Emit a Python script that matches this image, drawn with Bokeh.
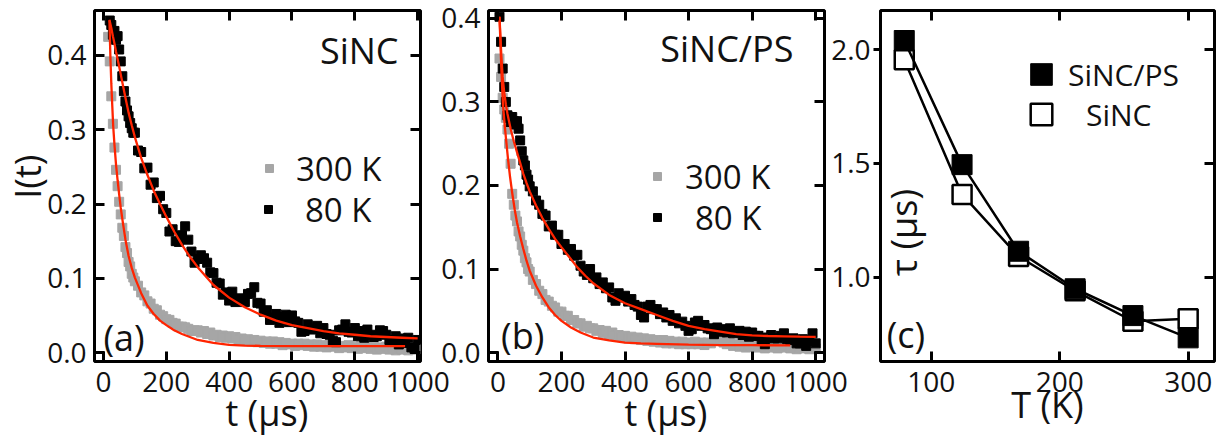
from math import pi

from bokeh.embed import file_html
from bokeh.layouts import row
from bokeh.models import (FixedTicker, Label, Legend, LegendItem, LinearAxis,
                          NumeralTickFormatter, Range1d)
from bokeh.plotting import figure
from bokeh.resources import INLINE

FONT = "Open Sans"
RED = "#ff2400"
GRAY = "#a6a6a6"

# ---------------------------------------------------------------- data
# sampling times of the decay traces (µs)
T_GRID = [5, 10, 15, 20, 25, 30, 35, 40, 45, 50, 55, 60, 65, 70, 75, 80, 85, 90, 95,
          100, 110, 120, 130, 140, 150, 160, 170, 180, 190,
          200, 210, 220, 230, 240, 250, 260, 270, 280, 290,
          300, 310, 320, 330, 340, 350, 360, 370, 380, 390,
          400, 410, 420, 430, 440, 450, 460, 470, 480, 490,
          500, 510, 520, 530, 540, 550, 560, 570, 580, 590,
          600, 610, 620, 630, 640, 650, 660, 670, 680, 690,
          700, 710, 720, 730, 740, 750, 760, 770, 780, 790,
          800, 810, 820, 830, 840, 850, 860, 870, 880, 890,
          900, 910, 920, 930, 940, 950, 960, 970, 980, 990, 1000]

# (a) SiNC, 80 K  (starts at t = 20)
A_80K = [0.447, 0.441, 0.428, 0.433, 0.421, 0.426, 0.408, 0.392, 0.372, 0.352,
         0.338, 0.326, 0.318, 0.309, 0.302, 0.296,
         0.296, 0.272, 0.270, 0.248, 0.249, 0.226, 0.229, 0.208, 0.211, 0.193,
         0.188, 0.163, 0.166, 0.150, 0.149, 0.158, 0.170, 0.152, 0.136, 0.121,
         0.126, 0.131, 0.127, 0.121, 0.108, 0.107, 0.094, 0.093, 0.078, 0.081,
         0.070, 0.082, 0.068, 0.073, 0.071, 0.068, 0.079, 0.080, 0.088, 0.067,
         0.066, 0.055, 0.057, 0.044, 0.047, 0.052, 0.040, 0.048, 0.051, 0.041,
         0.050, 0.042, 0.040, 0.028, 0.029, 0.038, 0.031, 0.032, 0.036, 0.026,
         0.033, 0.025, 0.024, 0.016, 0.014, 0.030, 0.031, 0.038, 0.028, 0.027,
         0.033, 0.022, 0.029, 0.020, 0.031, 0.024, 0.021, 0.022, 0.030, 0.029,
         0.024, 0.017, 0.016, 0.022, 0.011, 0.019, 0.013, 0.020, 0.007, 0.005,
         0.017]
# (a) SiNC, 300 K  (starts at t = 15)
A_300K = [0.425, 0.392, 0.345, 0.308, 0.276, 0.246, 0.224, 0.203, 0.186, 0.168,
          0.157, 0.142, 0.134, 0.122, 0.116, 0.106, 0.101,
          0.096, 0.090, 0.081, 0.077, 0.069, 0.066, 0.059, 0.057, 0.051, 0.049,
          0.045, 0.044, 0.040, 0.039, 0.035, 0.035, 0.034, 0.032, 0.029, 0.030,
          0.030, 0.027, 0.029, 0.025, 0.027, 0.023, 0.024, 0.021, 0.023, 0.020,
          0.022, 0.019, 0.021, 0.017, 0.019, 0.016, 0.018, 0.015, 0.017, 0.014,
          0.016, 0.013, 0.015, 0.012, 0.015, 0.012, 0.014, 0.010, 0.013, 0.011,
          0.012, 0.009, 0.012, 0.010, 0.012, 0.009, 0.011, 0.008, 0.011, 0.008,
          0.010, 0.007, 0.011, 0.008, 0.010, 0.006, 0.009, 0.007, 0.010, 0.006,
          0.008, 0.005, 0.009, 0.006, 0.008, 0.005, 0.008, 0.004, 0.007, 0.005,
          0.008, 0.004, 0.006, 0.003, 0.007, 0.004, 0.006, 0.003, 0.006, 0.004,
          0.005]
# (b) SiNC/PS, 80 K  (starts at t = 5)
B_80K = [0.402, 0.372, 0.340, 0.318, 0.300, 0.284, 0.281, 0.276, 0.282, 0.277,
         0.273, 0.277, 0.268, 0.254, 0.241, 0.230, 0.224, 0.213, 0.207,
         0.199, 0.193, 0.182, 0.177, 0.166, 0.164, 0.151, 0.152, 0.141, 0.141,
         0.130, 0.130, 0.123, 0.124, 0.116, 0.117, 0.104, 0.097, 0.093, 0.100,
         0.089, 0.090, 0.082, 0.084, 0.077, 0.078, 0.066, 0.062, 0.071, 0.066,
         0.068, 0.061, 0.064, 0.057, 0.055, 0.045, 0.042, 0.055, 0.057, 0.052,
         0.052, 0.046, 0.048, 0.042, 0.045, 0.038, 0.041, 0.035, 0.037, 0.032,
         0.026, 0.028, 0.036, 0.038, 0.032, 0.033, 0.029, 0.028, 0.022, 0.030,
         0.025, 0.028, 0.024, 0.029, 0.023, 0.024, 0.026, 0.021, 0.025, 0.019,
         0.024, 0.020, 0.020, 0.014, 0.010, 0.018, 0.021, 0.017, 0.017, 0.020,
         0.023, 0.016, 0.015, 0.017, 0.011, 0.011, 0.016, 0.008, 0.014, 0.023,
         0.011]
# (b) SiNC/PS, 300 K  (starts at t = 5)
B_300K = [0.352, 0.330, 0.305, 0.291, 0.281, 0.267, 0.250, 0.226, 0.190, 0.177,
          0.164, 0.157, 0.145, 0.139, 0.129, 0.122, 0.113, 0.108, 0.100,
          0.097, 0.087, 0.082, 0.074, 0.070, 0.063, 0.061, 0.056, 0.054, 0.049,
          0.049, 0.044, 0.044, 0.039, 0.039, 0.035, 0.035, 0.031, 0.032, 0.029,
          0.029, 0.026, 0.027, 0.023, 0.026, 0.021, 0.024, 0.020, 0.021, 0.019,
          0.020, 0.017, 0.019, 0.016, 0.018, 0.015, 0.017, 0.014, 0.016, 0.013,
          0.015, 0.012, 0.015, 0.011, 0.014, 0.011, 0.013, 0.010, 0.013, 0.010,
          0.012, 0.010, 0.013, 0.010, 0.012, 0.009, 0.012, 0.011, 0.015, 0.016,
          0.017, 0.012, 0.010, 0.011, 0.008, 0.010, 0.007, 0.009, 0.006, 0.009,
          0.007, 0.010, 0.006, 0.008, 0.005, 0.008, 0.006, 0.009, 0.005, 0.007,
          0.006, 0.008, 0.005, 0.007, 0.004, 0.006, 0.005, 0.007, 0.004, 0.006,
          0.005]

# fitted decay curves
FIT_A80_T = [19, 25, 30, 35, 40, 50, 60, 70, 80, 90, 100, 120, 140, 160, 180, 200,
             225, 250, 275, 300, 350, 400, 450, 500, 550, 600, 650, 700, 750, 800,
             850, 900, 950, 1000]
FIT_A80 = [0.448, 0.437, 0.426, 0.416, 0.405, 0.385, 0.364, 0.343, 0.323, 0.306,
           0.290, 0.262, 0.239, 0.218, 0.200, 0.183, 0.163, 0.145, 0.129, 0.115,
           0.091, 0.074, 0.061, 0.051, 0.043, 0.037, 0.033, 0.029, 0.026, 0.024,
           0.022, 0.021, 0.020, 0.019]
FIT_A300_T = [19, 22, 25, 28, 31, 35, 40, 45, 50, 55, 60, 70, 80, 90, 100, 120, 140,
              160, 180, 200, 225, 250, 300, 350, 400, 450, 500, 600, 700, 800, 960]
FIT_A300 = [0.447, 0.400, 0.362, 0.333, 0.305, 0.280, 0.253, 0.232, 0.213, 0.195,
            0.180, 0.152, 0.130, 0.114, 0.101, 0.080, 0.063, 0.052, 0.043, 0.037,
            0.030, 0.025, 0.017, 0.013, 0.0105, 0.0095, 0.009, 0.0088, 0.0088,
            0.0088, 0.0088]
FIT_B80_T = [5, 8, 11, 15, 20, 25, 30, 40, 50, 60, 70, 80, 90, 100, 120, 140, 160,
             180, 200, 225, 250, 275, 300, 350, 400, 450, 500, 550, 600, 650, 700,
             750, 800, 850, 900, 950, 1000]
FIT_B80 = [0.402, 0.378, 0.354, 0.330, 0.311, 0.297, 0.286, 0.268, 0.253, 0.240,
           0.227, 0.214, 0.203, 0.193, 0.176, 0.161, 0.148, 0.136, 0.126, 0.114,
           0.102, 0.092, 0.083, 0.069, 0.059, 0.052, 0.045, 0.038, 0.032, 0.028,
           0.025, 0.022, 0.0205, 0.0198, 0.0194, 0.019, 0.0187]
FIT_B300_T = [5, 8, 11, 14, 17, 22, 27, 32, 38, 45, 53, 60, 70, 80, 90, 100, 120,
              140, 160, 180, 200, 230, 260, 300, 350, 400, 450, 500, 600, 700, 800,
              920]
FIT_B300 = [0.402, 0.370, 0.338, 0.312, 0.292, 0.270, 0.250, 0.231, 0.211, 0.191,
            0.171, 0.156, 0.139, 0.124, 0.110, 0.098, 0.080, 0.066, 0.054, 0.045,
            0.038, 0.030, 0.024, 0.018, 0.0145, 0.012, 0.011, 0.0105, 0.0095,
            0.009, 0.0088, 0.0087]

# (c) lifetime vs temperature
TEMP_K = [79, 124, 168, 212, 257, 300]
TAU_SINC_PS = [2.041, 1.495, 1.114, 0.949, 0.831, 0.733]
TAU_SINC = [1.956, 1.364, 1.091, 0.940, 0.806, 0.817]

T_TICKS = [0, 200, 400, 600, 800, 1000]
I_TICKS_A = [0.0, 0.1, 0.2, 0.3, 0.4]
I_TICKS_B = [0.0, 0.1, 0.2, 0.3, 0.4]
TEMP_TICKS = [100, 200, 300]
TAU_TICKS = [1.0, 1.5, 2.0]


# ---------------------------------------------------------------- helpers
def base_axis(ax, ticks, fmt, tick_in=10, tick_out=0, show_labels=True, standoff=8):
    ax.ticker = FixedTicker(ticks=ticks)
    ax.formatter = NumeralTickFormatter(format=fmt)
    ax.axis_line_color = None
    ax.major_tick_line_color = "black"
    ax.major_tick_line_width = 3
    ax.major_tick_in = tick_in
    ax.major_tick_out = tick_out
    ax.minor_tick_line_color = None
    ax.minor_tick_in = 0
    ax.minor_tick_out = 0
    ax.major_label_text_font = FONT
    ax.major_label_standoff = standoff
    if show_labels:
        ax.major_label_text_color = "#111111"
        ax.major_label_text_font_size = "28px"
    else:
        # mirror axis: ticks only
        ax.major_label_text_color = None
        ax.major_label_text_font_size = "1px"
        ax.axis_label_standoff = 0
    ax.axis_label_text_font = FONT
    ax.axis_label_text_font_size = "36px"
    ax.axis_label_text_font_style = "normal"
    ax.axis_label_text_color = "#111111"


def make_panel(width, x_range, y_range, xticks, yticks, xfmt, yfmt,
               left, right, top, bottom, left_tick_out=0):
    p = figure(width=width, height=442, x_range=Range1d(*x_range),
               y_range=Range1d(*y_range), output_backend="svg", title=None,
               toolbar_location=None, min_border_left=left, min_border_right=right,
               min_border_top=top, min_border_bottom=bottom)
    p.grid.visible = False
    p.outline_line_color = "black"
    p.outline_line_width = 3
    p.background_fill_color = "white"
    p.border_fill_color = None
    base_axis(p.below[0], xticks, xfmt, standoff=10)
    if left_tick_out:
        base_axis(p.left[0], yticks, yfmt, tick_in=0, tick_out=left_tick_out,
                  standoff=3)
    else:
        base_axis(p.left[0], yticks, yfmt, standoff=8)
    top_ax = LinearAxis()
    base_axis(top_ax, xticks, xfmt, show_labels=False, standoff=0)
    p.add_layout(top_ax, "above")
    right_ax = LinearAxis()
    base_axis(right_ax, yticks, yfmt, show_labels=False, standoff=0)
    p.add_layout(right_ax, "right")
    return p


def key(p, renderers, label, x, y, standoff, size, glyph_w, glyph_h=50):
    leg = Legend(items=[LegendItem(label=label, renderers=renderers)],
                 location=(x, y), border_line_color=None, background_fill_alpha=0,
                 padding=0, margin=0, spacing=0, glyph_width=glyph_w,
                 glyph_height=glyph_h, label_standoff=standoff, label_height=0,
                 label_width=0, label_text_font=FONT, label_text_font_size=size,
                 label_text_color="#111111")
    p.add_layout(leg)


def tag(p, x, y, text, align="left", size="36px", angle=0.0, baseline="alphabetic"):
    p.add_layout(Label(x=x, y=y, text=text, text_font=FONT, text_font_size=size,
                       text_align=align, text_baseline=baseline, angle=angle,
                       text_color="#111111"))


MS = 9  # data marker size

# ---------------------------------------------------------------- (a) SiNC
pa = make_panel(450, (-28.5, 1009), (-0.012, 0.4605), T_TICKS, I_TICKS_A,
                "0", "0.0", left=92, right=30, top=10, bottom=79)
pa.below[0].axis_label = "\u00a0\u00a0t (µs)"
pa.below[0].axis_label_standoff = -7
pa.left[0].axis_label = "\u00a0\u00a0I(t)"
pa.left[0].axis_label_standoff = -8
ga = pa.scatter(T_GRID[2:], A_300K, marker="square", size=MS, color=GRAY)
ka = pa.scatter(T_GRID[3:], A_80K, marker="square", size=MS, color="black")
pa.line(FIT_A300_T, FIT_A300, line_color=RED, line_width=2.3)
pa.line(FIT_A80_T, FIT_A80, line_color=RED, line_width=2.3)
key(pa, [ga], "300 K", 165, 168, 17, "33px", 20)
key(pa, [ka], "80 K", 164, 127, 27, "33px", 20)
tag(pa, 939, 0.407, "SiNC", align="right")
tag(pa, 0, 0.020, "(a)")

# ---------------------------------------------------------------- (b) SiNC/PS
pb = make_panel(420, (-29.6, 1027.7), (-0.0107, 0.4095), T_TICKS, I_TICKS_B,
                "0", "0.0", left=58, right=26, top=10, bottom=79)
pb.margin = (0, 0, 0, -20)
pb.below[0].axis_label = "\u00a0\u00a0t (µs)"
pb.below[0].axis_label_standoff = -7
gb = pb.scatter(T_GRID, B_300K, marker="square", size=MS, color=GRAY)
kb = pb.scatter(T_GRID, B_80K, marker="square", size=MS, color="black")
pb.line(FIT_B300_T, FIT_B300, line_color=RED, line_width=2.3)
pb.line(FIT_B80_T, FIT_B80, line_color=RED, line_width=2.3)
key(pb, [gb], "300 K", 159, 160, 18, "33px", 20)
key(pb, [kb], "80 K", 159, 119, 28, "33px", 20)
tag(pb, 930, 0.364, "SiNC/PS", align="right")
tag(pb, 10, 0.020, "(b)")

# ---------------------------------------------------------------- (c) lifetimes
pc = make_panel(397, (60.5, 320.5), (0.629, 2.173), TEMP_TICKS, TAU_TICKS,
                "0", "0.0", left=48, right=11, top=10, bottom=81, left_tick_out=7)
pc.margin = (0, 0, 0, -22)
pc.below[0].axis_label = "T (K)"
pc.below[0].axis_label_standoff = -15
l_open = pc.line(TEMP_K, TAU_SINC, line_color="black", line_width=2.5)
s_open = pc.scatter(TEMP_K, TAU_SINC, marker="square", size=19, fill_color="white",
                    line_color="black", line_width=2.5)
l_fill = pc.line(TEMP_K, TAU_SINC_PS, line_color="black", line_width=2.5)
s_fill = pc.scatter(TEMP_K, TAU_SINC_PS, marker="square", size=20,
                    fill_color="black", line_color="black")
key(pc, [s_fill], "SiNC/PS", 134, 260, 0, "30px", 54, glyph_h=54)
key(pc, [s_open], "SiNC", 134, 220, 18, "30px", 54, glyph_h=54)
tag(pc, 78.5, 1.197, "τ (µs)", align="center", angle=pi / 2, baseline="middle")
tag(pc, 65.3, 0.747, "(c)")

layout = row(pa, pb, pc)
open("out.html", "w").write(file_html(layout, INLINE))
